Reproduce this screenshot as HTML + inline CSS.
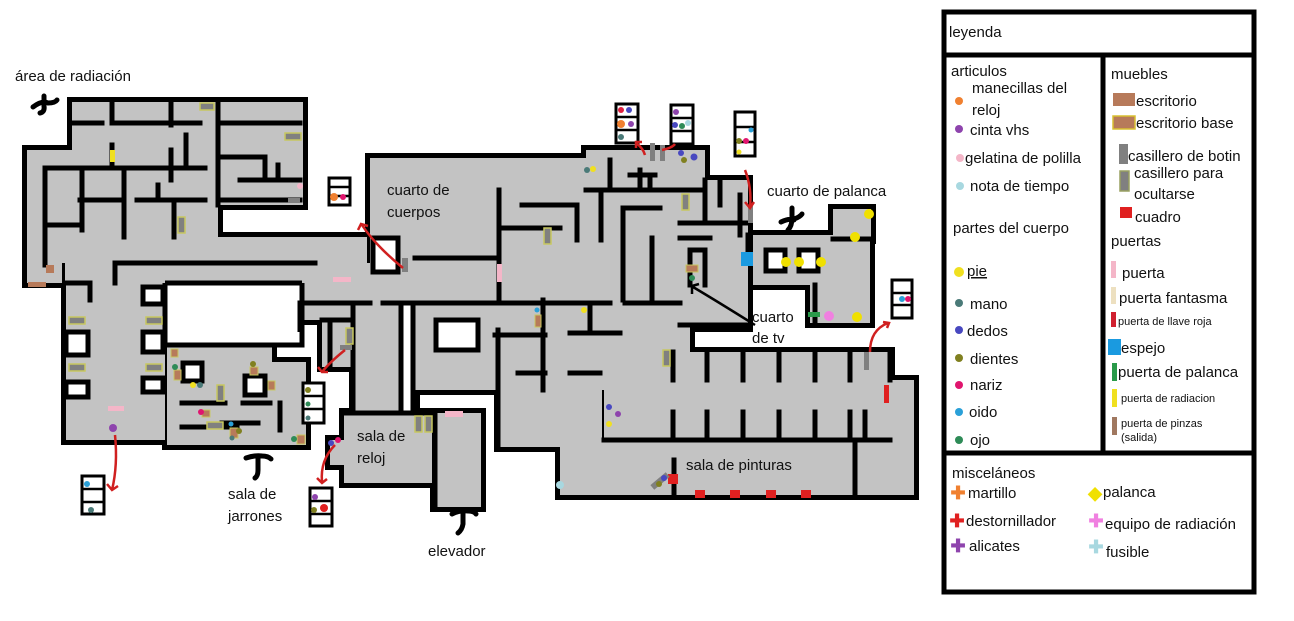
<!DOCTYPE html>
<html><head><meta charset="utf-8"><style>
html,body{margin:0;padding:0;background:#fff;}
svg{display:block;}
text{font-family:"Liberation Sans",sans-serif;fill:#111;}
</style></head><body>
<svg width="1294" height="621" viewBox="0 0 1294 621" xmlns="http://www.w3.org/2000/svg">
<defs>
<g id="rects">
<rect x="72" y="102" width="231" height="103"/>
<rect x="27" y="150" width="191" height="87"/>
<rect x="27" y="237" width="340" height="26"/>
<rect x="27" y="263" width="35" height="20"/>
<rect x="65" y="263" width="235" height="20"/>
<rect x="66" y="283" width="99" height="157"/>
<rect x="167" y="345" width="105" height="100"/>
<rect x="272" y="362" width="34" height="83"/>
<rect x="302" y="278" width="51" height="42"/>
<rect x="322" y="300" width="31" height="67"/>
<rect x="300" y="263" width="200" height="40"/>
<rect x="370" y="158" width="228" height="115"/>
<rect x="499" y="190" width="181" height="113"/>
<rect x="586" y="150" width="119" height="45"/>
<rect x="680" y="180" width="68" height="147"/>
<rect x="753" y="235" width="117" height="50"/>
<rect x="833" y="209" width="38" height="30"/>
<rect x="810" y="285" width="60" height="38"/>
<rect x="415" y="303" width="243" height="87"/>
<rect x="499" y="390" width="103" height="57"/>
<rect x="344" y="413" width="88" height="70"/>
<rect x="435" y="413" width="46" height="94"/>
<rect x="354" y="303" width="61" height="110"/>
<rect x="600" y="303" width="90" height="52"/>
<rect x="604" y="352" width="286" height="88"/>
<rect x="890" y="380" width="24" height="60"/>
<rect x="560" y="440" width="354" height="55"/>
<rect x="330" y="440" width="14" height="25"/>
</g>
</defs>
<g fill="#000" stroke="#000" stroke-width="10"><use href="#rects"/></g>
<g fill="#c3c3c3"><use href="#rects"/></g>
<g fill="#fff" stroke="#000" stroke-width="5">
<rect x="143" y="287" width="20" height="17"/>
<rect x="143" y="332" width="20" height="20"/>
<rect x="143" y="378" width="20" height="14"/>
<rect x="66" y="332" width="22" height="23"/>
<rect x="66" y="382" width="22" height="15"/>
<rect x="167" y="283" width="135" height="60" stroke="none"/>
<rect x="183" y="363" width="19" height="18"/>
<rect x="245" y="376" width="20" height="19"/>
<rect x="436" y="320" width="42" height="30"/>
<rect x="766" y="250" width="19" height="21"/>
<rect x="799" y="250" width="19" height="21"/>
<rect x="373" y="238" width="25" height="34"/>
<rect x="401" y="303" width="12" height="110" stroke="none"/>
</g>
<g stroke="#000" stroke-width="5" fill="none">
<path d="M165 283V345H302V283M165 283H302M300 303V332"/>
<path d="M401 303V413M413 303V413"/>
</g>
<g stroke="#000" stroke-width="5" fill="none" stroke-linecap="square">
<path d="M72 123H102M112 123H150M155 123H200M218 123H300"/>
<path d="M112 102V118M112 145V165M171 102V125M171 150V180M218 102V205M186 135V165M158 185V200"/>
<path d="M45 168H205M222 157H265M265 157V180M240 180H300M278 165V180"/>
<path d="M80 200H120M137 200H205M218 200H300"/>
<path d="M82 168V230M124 168V237M174 200V237M45 225H80M45 168V265"/>
<path d="M115 263H315M115 263V283M65 283H90M90 283V300"/>
<path d="M182 403H225M243 403H270M182 427H237M222 423H258M280 403V430"/>
<path d="M322 320H353M330 320V367M353 303V413M344 413H432M435 413V507"/>
<path d="M415 258H499M499 190V300M499 228H560M522 205H577M577 205V240M601 190V240M623 210V300M623 208H660M652 238V303M680 238H710"/>
<path d="M300 303H370M383 303H610M625 303H680"/>
<path d="M498 330V445M543 300V390M518 373H545M495 335H545M590 303V333M570 333H620M570 373H600"/>
<path d="M673 352V380M707 352V380M743 352V380M779 352V380M815 352V380M850 352V380M890 352V380"/>
<path d="M673 412V440M707 412V440M743 412V440M779 412V440M815 412V440M850 412V440M865 412V440"/>
<path d="M604 440H890M674 460V496M855 440V496"/>
<path d="M586 190H705M610 190V160M640 170V190M705 180V223M720 180V205M740 195V235M680 223H748M748 235V260"/>
<path d="M690 250V285M690 250H705M705 250V285M680 325H748M815 285V323M833 239H871"/>
<path d="M630 175H655M650 175V185"/>
</g>
<g>
<rect x="108" y="406" width="16" height="5" fill="#f4b6c8"/>
<rect x="333" y="277" width="18" height="5" fill="#f4b6c8"/>
<rect x="497" y="264" width="5" height="18" fill="#f4b6c8"/>
<rect x="445" y="411" width="18" height="6" fill="#f4b6c8"/>
<rect x="110" y="150" width="5" height="12" fill="#f0e020"/>
<rect x="741" y="252" width="12" height="14" fill="#1a9ae0"/>
<rect x="808" y="312" width="12" height="5" fill="#2a9a4a"/>
<rect x="884" y="385" width="5" height="18" fill="#e02020"/>
<rect x="28" y="282" width="18" height="5" fill="#b77a5a"/>
<rect x="46" y="265" width="8" height="8" fill="#b77a5a"/>
</g>
<g fill="#e02020">
<rect x="668" y="474" width="10" height="10"/>
<rect x="695" y="490" width="10" height="8"/>
<rect x="730" y="490" width="10" height="8"/>
<rect x="766" y="490" width="10" height="8"/>
<rect x="801" y="490" width="10" height="8"/>
</g>
<g fill="#808080" stroke="#c8c860" stroke-width="1.5">
<rect x="200" y="103" width="14" height="7"/><rect x="285" y="133" width="16" height="7"/>
<rect x="178" y="217" width="7" height="16"/><rect x="69" y="317" width="16" height="7"/>
<rect x="146" y="317" width="16" height="7"/><rect x="69" y="364" width="16" height="7"/>
<rect x="146" y="364" width="16" height="7"/><rect x="217" y="385" width="7" height="16"/>
<rect x="207" y="422" width="16" height="7"/><rect x="346" y="328" width="7" height="16"/>
<rect x="544" y="228" width="7" height="16"/><rect x="682" y="194" width="7" height="16"/>
<rect x="415" y="416" width="7" height="16"/><rect x="425" y="416" width="7" height="16"/>
<rect x="663" y="350" width="7" height="16"/>
</g>
<g fill="#808080">
<rect x="288" y="198" width="12" height="5"/><rect x="402" y="258" width="6" height="14"/>
<rect x="340" y="345" width="12" height="5"/><rect x="650" y="143" width="5" height="18"/>
<rect x="660" y="145" width="5" height="16"/><rect x="748" y="205" width="5" height="18"/>
<rect x="864" y="352" width="5" height="18"/>
<rect x="650" y="478" width="20" height="6" transform="rotate(-40 660 481)"/>
</g>
<g fill="#b77a5a" stroke="#c8c860" stroke-width="1">
<rect x="171" y="349" width="7" height="8"/><rect x="174" y="370" width="7" height="10"/>
<rect x="250" y="367" width="8" height="8"/><rect x="268" y="381" width="7" height="9"/>
<rect x="202" y="410" width="8" height="7"/><rect x="230" y="428" width="8" height="10"/>
<rect x="297" y="435" width="8" height="9"/><rect x="535" y="315" width="6" height="12"/>
<rect x="686" y="265" width="12" height="7"/>
</g>
<g>
<circle cx="113" cy="428" r="4" fill="#8e44ad"/>
<circle cx="175" cy="367" r="3" fill="#2e8b57"/><circle cx="193" cy="385" r="3" fill="#f0e020"/><circle cx="200" cy="385" r="3" fill="#4a7a78"/>
<circle cx="253" cy="364" r="3" fill="#808020"/><circle cx="201" cy="412" r="3" fill="#e0156e"/>
<circle cx="231" cy="424" r="2.5" fill="#2aa0d8"/><circle cx="239" cy="431" r="3" fill="#808020"/><circle cx="232" cy="438" r="2.5" fill="#4a7a78"/>
<circle cx="294" cy="439" r="3" fill="#2e8b57"/><circle cx="300" cy="186" r="3" fill="#f4b6c8"/>
<circle cx="331" cy="443" r="3" fill="#4848c0"/><circle cx="338" cy="440" r="3" fill="#e0156e"/>
<circle cx="537" cy="310" r="2.5" fill="#2aa0d8"/><circle cx="584" cy="310" r="3" fill="#f0e020"/>
<circle cx="587" cy="170" r="3" fill="#4a7a78"/><circle cx="593" cy="169" r="3" fill="#f0e020"/>
<circle cx="681" cy="153" r="3" fill="#4848c0"/><circle cx="684" cy="160" r="3" fill="#808020"/><circle cx="694" cy="157" r="3.5" fill="#4848c0"/>
<circle cx="692" cy="278" r="3" fill="#2e8b57"/><circle cx="609" cy="407" r="3" fill="#4848c0"/><circle cx="618" cy="414" r="3" fill="#8e44ad"/>
<circle cx="609" cy="424" r="3" fill="#f0e020"/><circle cx="664" cy="478" r="3" fill="#4848c0"/><circle cx="659" cy="484" r="3" fill="#808020"/>
<circle cx="560" cy="485" r="4" fill="#a8d8e0"/><circle cx="829" cy="316" r="5" fill="#f080e0"/>
</g>
<g fill="#f0e000">
<circle cx="869" cy="214" r="5"/><circle cx="855" cy="237" r="5"/><circle cx="786" cy="262" r="5"/>
<circle cx="799" cy="262" r="5"/><circle cx="821" cy="262" r="5"/><circle cx="857" cy="317" r="5"/>
</g>
<g fill="#fff" stroke="#000" stroke-width="3">
<rect x="616" y="104" width="22" height="39"/><rect x="671" y="105" width="22" height="39"/>
<rect x="735" y="112" width="20" height="44"/><rect x="329" y="178" width="21" height="27"/>
<rect x="892" y="280" width="20" height="38"/><rect x="82" y="476" width="22" height="38"/>
<rect x="303" y="383" width="21" height="40"/><rect x="310" y="488" width="22" height="38"/>
</g>
<g stroke="#000" stroke-width="2.5">
<path d="M616 117H638M616 130H638M671 118H693M671 131H693M735 127H755M735 142H755M329 187H350M329 196H350M892 293H912M892 305H912M82 489H104M82 502H104M303 396H324M303 409H324M310 501H332M310 514H332"/>
</g>
<g>
<circle cx="621" cy="110" r="3" fill="#e02040"/><circle cx="629" cy="110" r="3" fill="#4848c0"/><circle cx="621" cy="124" r="4" fill="#f08030"/><circle cx="631" cy="124" r="3" fill="#8e44ad"/><circle cx="621" cy="137" r="3" fill="#4a7a78"/>
<circle cx="676" cy="112" r="3" fill="#8e44ad"/><circle cx="675" cy="125" r="3" fill="#4848c0"/><circle cx="682" cy="126" r="3" fill="#2e8b57"/><circle cx="688" cy="123" r="3" fill="#a8d8e0"/>
<circle cx="751" cy="130" r="2.5" fill="#2aa0d8"/><circle cx="739" cy="141" r="3" fill="#808020"/><circle cx="746" cy="141" r="3" fill="#e0156e"/><circle cx="739" cy="152" r="2.5" fill="#f0e020"/>
<circle cx="334" cy="197" r="4" fill="#f08030"/><circle cx="343" cy="197" r="3" fill="#e0156e"/>
<circle cx="902" cy="299" r="3" fill="#2aa0d8"/><circle cx="908" cy="299" r="3" fill="#e0156e"/>
<circle cx="87" cy="484" r="3" fill="#2aa0d8"/><circle cx="91" cy="510" r="3" fill="#4a7a78"/>
<circle cx="308" cy="390" r="3" fill="#808020"/><circle cx="308" cy="404" r="2.5" fill="#2e8b57"/><circle cx="308" cy="418" r="2.5" fill="#4a7a78"/>
<circle cx="315" cy="497" r="3" fill="#8e44ad"/><circle cx="314" cy="510" r="3" fill="#808020"/><circle cx="324" cy="508" r="4" fill="#e02020"/>
</g>
<g stroke="#d02020" stroke-width="2.5" fill="none">
<path d="M403 268Q375 245 362 225M358 230L361 224L368 226"/>
<path d="M115 435Q118 465 112 490M107 484L112 490L118 486"/>
<path d="M345 350Q330 362 322 372M318 367L322 372L328 372"/>
<path d="M335 445Q320 460 322 482M317 478L322 483L327 479"/>
<path d="M645 155Q643 148 636 143M636 148L636 142L642 142"/>
<path d="M662 150Q672 148 675 144"/>
<path d="M745 170Q752 188 750 207M745 202L750 208L754 202"/>
<path d="M870 352Q870 330 888 323M883 322L889 323L887 328"/>
</g>
<path d="M755 325Q715 300 693 287M692 294L692 286L699 284" stroke="#000" stroke-width="2.5" fill="none"/>
<g fill="#000" stroke="#000" stroke-width="5" stroke-linecap="round">
<path d="M33 107Q42 100 48 103M44 96V106Q45 112 40 113M48 103Q55 103 57 100" fill="none"/>
<path d="M781 222Q789 218 794 220M792 208V218Q792 226 788 230M794 219Q800 217 802 214" fill="none"/>
<path d="M246 458Q255 455 262 456M258 458V470Q258 476 255 478M262 456Q268 456 271 459" fill="none"/>
<path d="M452 514Q460 510 468 511M463 512V524Q462 530 458 533M468 511Q474 511 476 514" fill="none"/>
</g>
<g font-size="15">
<text x="15" y="81">área de radiación</text>
<text x="387" y="195">cuarto de</text><text x="387" y="217">cuerpos</text>
<text x="767" y="196">cuarto de palanca</text>
<text x="752" y="322">cuarto</text><text x="752" y="343">de tv</text>
<text x="357" y="441">sala de</text><text x="357" y="463">reloj</text>
<text x="228" y="499">sala de</text><text x="228" y="521">jarrones</text>
<text x="428" y="556">elevador</text>
<text x="686" y="470">sala de pinturas</text>
</g>
<g fill="none" stroke="#000" stroke-width="5">
<rect x="944" y="12" width="310" height="580"/>
<path d="M944 55H1254M944 453H1254M1103 55V453"/>
</g>
<g font-size="15">
<text x="949" y="37">leyenda</text>
<text x="951" y="76">articulos</text>
<text x="972" y="93">manecillas del</text><text x="972" y="115">reloj</text>
<text x="970" y="135">cinta vhs</text>
<text x="965" y="163">gelatina de polilla</text>
<text x="970" y="191">nota de tiempo</text>
<text x="953" y="233">partes del cuerpo</text>
<text x="967" y="276" text-decoration="underline">pie</text>
<text x="970" y="309">mano</text>
<text x="967" y="336">dedos</text>
<text x="970" y="364">dientes</text>
<text x="970" y="390">nariz</text>
<text x="969" y="417">oido</text>
<text x="970" y="445">ojo</text>
<text x="1111" y="79">muebles</text>
<text x="1136" y="106">escritorio</text>
<text x="1136" y="128">escritorio base</text>
<text x="1128" y="161">casillero de botin</text>
<text x="1134" y="178">casillero para</text><text x="1134" y="199">ocultarse</text>
<text x="1135" y="222">cuadro</text>
<text x="1111" y="246">puertas</text>
<text x="1122" y="278">puerta</text>
<text x="1119" y="303">puerta fantasma</text>
<text x="1121" y="353">espejo</text>
<text x="1118" y="377">puerta de palanca</text>
<text x="952" y="478">misceláneos</text>
<text x="968" y="498">martillo</text>
<text x="966" y="526">destornillador</text>
<text x="969" y="551">alicates</text>
<text x="1103" y="497">palanca</text>
<text x="1105" y="529">equipo de radiación</text>
<text x="1106" y="557">fusible</text>
</g>
<g font-size="11">
<text x="1118" y="325">puerta de llave roja</text>
<text x="1121" y="402">puerta de radiacion</text>
<text x="1121" y="427">puerta de pinzas</text>
<text x="1121" y="441">(salida)</text>
</g>
<g>
<circle cx="959" cy="101" r="4" fill="#f08030"/><circle cx="959" cy="129" r="4" fill="#8e44ad"/>
<circle cx="960" cy="158" r="4" fill="#f4b6c8"/><circle cx="960" cy="186" r="4" fill="#a8d8e0"/>
<circle cx="959" cy="272" r="5" fill="#f0e020"/><circle cx="959" cy="303" r="4" fill="#4a7a78"/>
<circle cx="959" cy="330" r="4" fill="#4848c0"/><circle cx="959" cy="358" r="4" fill="#808020"/>
<circle cx="959" cy="385" r="4" fill="#e0156e"/><circle cx="959" cy="412" r="4" fill="#2aa0d8"/>
<circle cx="959" cy="440" r="4" fill="#2e8b57"/>
<rect x="1113" y="93" width="22" height="13" fill="#b77a5a"/>
<rect x="1113" y="116" width="22" height="13" fill="#b77a5a" stroke="#d8c030" stroke-width="1.5"/>
<rect x="1119" y="144" width="9" height="20" fill="#808080"/>
<rect x="1120" y="171" width="9" height="20" fill="#808080" stroke="#98a060" stroke-width="1.5"/>
<rect x="1120" y="207" width="12" height="11" fill="#e02020"/>
<rect x="1111" y="261" width="5" height="17" fill="#f4b6c8"/>
<rect x="1111" y="287" width="5" height="17" fill="#ede0c0"/>
<rect x="1111" y="312" width="5" height="15" fill="#d02030"/>
<rect x="1108" y="339" width="13" height="16" fill="#1a9ae0"/>
<rect x="1112" y="363" width="5" height="18" fill="#2a9a4a"/>
<rect x="1112" y="389" width="5" height="18" fill="#f0e020"/>
<rect x="1112" y="417" width="5" height="18" fill="#a07860"/>
</g>
<g font-size="18" font-weight="bold" text-anchor="middle">
<text x="958" y="499" style="fill:#f08030">✚</text>
<text x="957" y="527" style="fill:#e02020">✚</text>
<text x="958" y="552" style="fill:#8e44ad">✚</text>
<text x="1095" y="499" style="fill:#f0e000">◆</text>
<text x="1096" y="527" style="fill:#f080e0">✚</text>
<text x="1096" y="553" style="fill:#a8d8e0">✚</text>
</g>
</svg>
</body></html>
